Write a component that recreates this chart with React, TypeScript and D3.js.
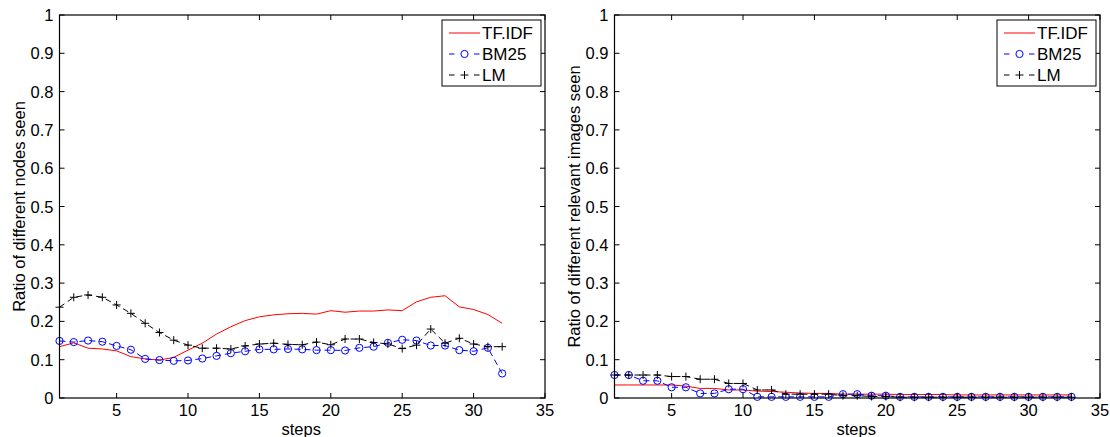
import React from "react";
import * as d3 from "d3";

const stepsLeft = d3.range(1, 33);
const stepsRight = d3.range(1, 34);

const tfidfLeft = [0.134,0.144,0.130,0.128,0.123,0.108,0.102,0.099,0.106,0.125,0.143,0.167,0.186,0.202,0.212,0.217,0.220,0.221,0.219,0.228,0.224,0.227,0.227,0.230,0.228,0.251,0.263,0.267,0.238,0.231,0.218,0.195];
const bm25Left = [0.149,0.146,0.150,0.147,0.136,0.126,0.102,0.099,0.097,0.098,0.103,0.110,0.117,0.122,0.127,0.127,0.128,0.127,0.125,0.125,0.124,0.131,0.134,0.144,0.152,0.150,0.137,0.137,0.125,0.122,0.131,0.064];
const lmLeft = [0.237,0.263,0.269,0.263,0.243,0.221,0.195,0.171,0.151,0.138,0.130,0.130,0.128,0.136,0.141,0.143,0.140,0.139,0.146,0.139,0.154,0.154,0.145,0.141,0.129,0.138,0.180,0.143,0.156,0.141,0.134,0.134];

const tfidfRight = [0.034,0.034,0.034,0.034,0.034,0.031,0.025,0.025,0.021,0.021,0.018,0.017,0.015,0.013,0.012,0.012,0.010,0.010,0.010,0.010,0.009,0.009,0.009,0.009,0.008,0.008,0.008,0.008,0.008,0.008,0.008,0.008,0.008];
const bm25Right = [0.060,0.060,0.045,0.045,0.028,0.028,0.012,0.012,0.023,0.023,0.003,0.003,0.003,0.003,0.003,0.003,0.010,0.010,0.006,0.006,0.003,0.003,0.003,0.003,0.003,0.003,0.003,0.003,0.003,0.003,0.003,0.003,0.003];
const lmRight = [0.060,0.060,0.060,0.060,0.056,0.056,0.049,0.049,0.038,0.038,0.021,0.021,0.010,0.010,0.010,0.010,0.006,0.006,0.004,0.004,0.002,0.002,0.002,0.002,0.002,0.002,0.002,0.002,0.002,0.002,0.002,0.002,0.002];

const xTicks = [5, 10, 15, 20, 25, 30, 35];
const yTicks = [0, 0.1, 0.2, 0.3, 0.4, 0.5, 0.6, 0.7, 0.8, 0.9, 1];
const seriesNames = ["TF.IDF", "BM25", "LM"];

const FONT = "'Liberation Sans', Arial, Helvetica, sans-serif";

type PanelProps = {
  x0: number;
  x1: number;
  steps: number[];
  tfidf: number[];
  bm25: number[];
  lm: number[];
  ylabel: string;
};

function Panel({ x0, x1, steps, tfidf, bm25, lm, ylabel }: PanelProps) {
  const top = 15;
  const bottom = 398;
  const x = d3.scaleLinear().domain([1, 35]).range([x0, x1]);
  const y = d3.scaleLinear().domain([0, 1]).range([bottom, top]);
  const line = (vals: number[]) =>
    d3.line<number>().x((_, i) => x(steps[i])).y((v) => y(v))(vals) || "";
  const tl = 5;
  const lx = x1 - 103;
  const ly = 20;
  const rows = [ly + 13, ly + 34, ly + 55];
  const dashes = (yy: number) => `M${lx + 7},${yy}h5.5M${lx + 32},${yy}h5.5`;
  return (
    <g>
      {/* data */}
      <path d={line(tfidf)} fill="none" stroke="#ff0000" strokeWidth={1} />
      <path d={line(bm25)} fill="none" stroke="#0000ff" strokeWidth={1} strokeDasharray="6,4" />
      {bm25.map((v, i) => (
        <circle key={"c" + i} cx={x(steps[i])} cy={y(v)} r={3.6} fill="none" stroke="#0000ff" strokeWidth={1} />
      ))}
      <path d={line(lm)} fill="none" stroke="#000" strokeWidth={1} strokeDasharray="6,4" />
      {lm.map((v, i) => (
        <path key={"p" + i} d={`M${x(steps[i]) - 4},${y(v)}h8M${x(steps[i])},${y(v) - 4}v8`} stroke="#000" strokeWidth={1} />
      ))}
      {/* axes box */}
      <rect x={x0} y={top} width={x1 - x0} height={bottom - top} fill="none" stroke="#000" strokeWidth={1.2} />
      {xTicks.map((t) => (
        <g key={"xt" + t}>
          <line x1={x(t)} x2={x(t)} y1={bottom} y2={bottom - tl} stroke="#000" />
          <line x1={x(t)} x2={x(t)} y1={top} y2={top + tl} stroke="#000" />
          <text x={x(t)} y={416} textAnchor="middle" fontSize={16.5} fontFamily={FONT}>{t}</text>
        </g>
      ))}
      {yTicks.map((t) => (
        <g key={"yt" + t}>
          <line x1={x0} x2={x0 + tl} y1={y(t)} y2={y(t)} stroke="#000" />
          <line x1={x1} x2={x1 - tl} y1={y(t)} y2={y(t)} stroke="#000" />
          <text x={x0 - 6} y={y(t) + 6} textAnchor="end" fontSize={16.5} fontFamily={FONT}>{t}</text>
        </g>
      ))}
      <text x={(x0 + x1) / 2 - 1} y={435} textAnchor="middle" fontSize={16.5} fontFamily={FONT}>steps</text>
      <text transform={`translate(${x0 - 35},${(top + bottom) / 2}) rotate(-90)`} textAnchor="middle" fontSize={16.5} fontFamily={FONT}>{ylabel}</text>
      {/* legend */}
      <rect x={lx} y={ly} width={99} height={66} fill="#fff" stroke="#000" strokeWidth={1} />
      <line x1={lx + 7} x2={lx + 38} y1={rows[0]} y2={rows[0]} stroke="#ff0000" strokeWidth={1} />
      <path d={dashes(rows[1])} stroke="#0000ff" strokeWidth={1} />
      <circle cx={lx + 22.5} cy={rows[1]} r={3.6} fill="none" stroke="#0000ff" />
      <path d={dashes(rows[2])} stroke="#000" strokeWidth={1} />
      <path d={`M${lx + 18.5},${rows[2]}h8M${lx + 22.5},${rows[2] - 4}v8`} stroke="#000" />
      {seriesNames.map((s, i) => (
        <text key={s} x={lx + 40} y={rows[i] + 6} fontSize={17} fontFamily={FONT}>{s}</text>
      ))}
    </g>
  );
}

export default function App() {
  return (
    <svg width={1110} height={437} style={{ position: "absolute", left: 0, top: 0, background: "#fff" }}>
      <rect width={1110} height={437} fill="#fff" />
      <Panel x0={59.5} x1={545} steps={stepsLeft} tfidf={tfidfLeft} bm25={bm25Left} lm={lmLeft} ylabel="Ratio of different nodes seen" />
      <Panel x0={614.5} x1={1100} steps={stepsRight} tfidf={tfidfRight} bm25={bm25Right} lm={lmRight} ylabel="Ratio of different relevant images seen" />
    </svg>
  );
}
